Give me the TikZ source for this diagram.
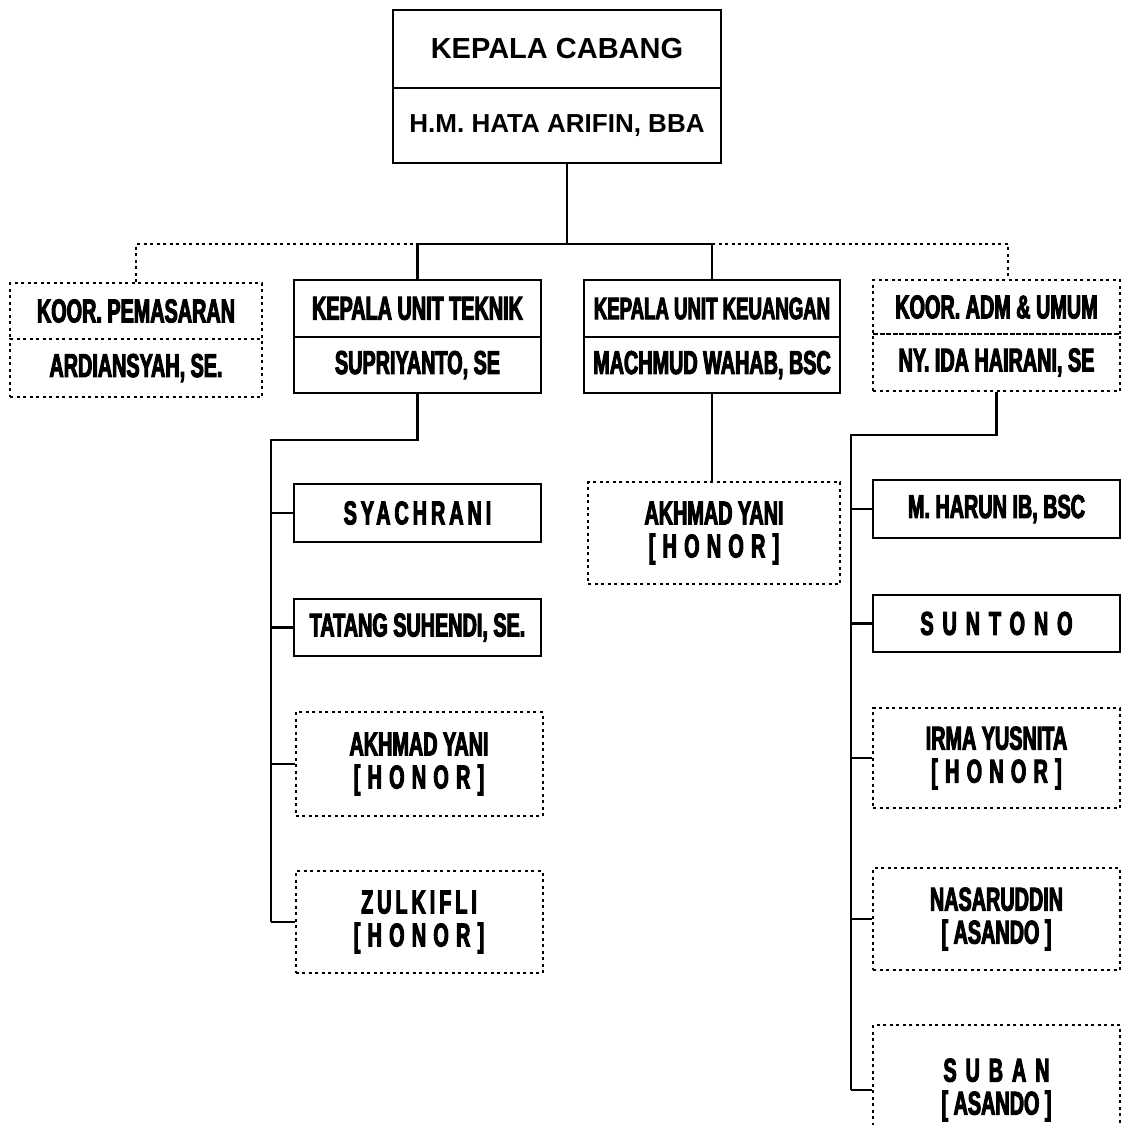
\documentclass[tikz,border=0pt]{standalone}
\usepackage{fontspec}
\setmainfont{Liberation Sans}
\newfontfamily\topf{Liberation Sans Bold}
\newfontfamily\cond{Liberation Sans Bold}[FakeStretch=0.6,FakeBold=3]
\newfontfamily\condsp{Liberation Sans Bold}[FakeStretch=0.6,FakeBold=3,LetterSpace=12]
\newfontfamily\condwide{Liberation Sans Bold}[FakeStretch=0.6,FakeBold=3,LetterSpace=27]
\newfontfamily\condhon{Liberation Sans Bold}[FakeStretch=0.6,FakeBold=3,LetterSpace=22]
\begin{document}
\begin{tikzpicture}[x=1pt,y=-1pt,
  solidbox/.style={draw, line width=2.3pt, inner sep=0pt, align=center,
    font=\cond\fontsize{33}{33}\selectfont},
  dotbox/.style={draw, line width=2pt, dash pattern=on 3pt off 3.5pt, inner sep=0pt, align=center,
    font=\cond\fontsize{33}{33}\selectfont},
  topbox/.style={draw, line width=2.3pt, inner sep=0pt, minimum width=328pt, align=center},
  conn/.style={line width=2.3pt},
  dotconn/.style={line width=2pt, dash pattern=on 3pt off 3.5pt},
  wA/.style={minimum width=252pt},
  wB/.style={minimum width=247pt},
  wC/.style={minimum width=256pt}]
\useasboundingbox (0,0) rectangle (1123,1125);
\clip (0,0) rectangle (1123,1125);

% top box
\node[topbox, minimum height=78pt, font=\topf\fontsize{29}{31}\selectfont] (kc) at (557,49) {KEPALA CABANG};
\node[topbox, minimum height=75pt, font=\topf\fontsize{26}{28}\selectfont] (kcn) at (557,125.5) {H.M. HATA ARIFIN, BBA};

% second level
\node[dotbox, wA, minimum height=56pt] (kp) at (136,311) {KOOR. PEMASARAN};
\node[dotbox, wA, minimum height=58pt] (kpn) at (136,368) {ARDIANSYAH, SE.};

\node[solidbox, wB, minimum height=57pt] (kt) at (417.5,308.5) {KEPALA UNIT TEKNIK};
\node[solidbox, wB, minimum height=56pt] (ktn) at (417.5,365) {SUPRIYANTO, SE};

\node[solidbox, wC, minimum height=57pt, font=\cond\fontsize{31}{33}\selectfont] (kk) at (712,308.5) {KEPALA UNIT KEUANGAN};
\node[solidbox, wC, minimum height=56pt] (kkn) at (712,365) {MACHMUD WAHAB, BSC};

\node[dotbox, wB, minimum height=54pt] (ka) at (996.5,307) {KOOR. ADM \& UMUM};
\node[dotbox, wB, minimum height=57pt] (kan) at (996.5,362.5) {NY. IDA HAIRANI, SE};

% bus
\coordinate (bus) at (567,244);
\coordinate (bA) at (1008,244);
\draw[conn] (bus |- kcn.south) -- (bus);
\draw[conn] (kt.north) -- (kt.north |- bus) -- (kk.north |- bus) -- (kk.north);
\draw[dotconn] (kp.north) -- (kp.north |- bus) -- (kt.north |- bus);
\draw[dotconn] (kk.north |- bus) -- (bA) -- (bA |- ka.north);

% teknik staff
\node[solidbox, wB, minimum height=58pt] (t1) at (417.5,513) {{\condsp SYACHRANI}};
\node[solidbox, wB, minimum height=57pt] (t2) at (417.5,627.5) {TATANG SUHENDI, SE.};
\node[dotbox, wB, minimum height=104pt] (t3) at (419,764) {AKHMAD YANI\\{\condhon[HONOR]}};
\node[dotbox, wB, minimum height=102pt] (t4) at (419,922) {{\condsp ZULKIFLI}\\{\condhon[HONOR]}};
\coordinate (tv) at (271,440);
\draw[conn] (ktn.south) -- (ktn.south |- tv) -- (tv) -- (tv |- t4.west);
\foreach \n in {t1,t2,t3,t4} \draw[conn] (tv |- \n.west) -- (\n.west);

% keuangan staff
\node[dotbox, wA, minimum height=102pt] (k1) at (714,533) {AKHMAD YANI\\{\condhon[HONOR]}};
\draw[conn] (kkn.south) -- (kkn.south |- k1.north);

% adm staff
\node[solidbox, wB, minimum height=58pt] (a1) at (996.5,509) {M. HARUN IB, BSC};
\node[solidbox, wB, minimum height=57pt] (a2) at (996.5,623.5) {{\condwide SUNTONO}};
\node[dotbox, wB, minimum height=100pt] (a3) at (996.5,758) {IRMA YUSNITA\\{\condhon[HONOR]}};
\node[dotbox, wB, minimum height=102pt] (a4) at (996.5,919) {NASARUDDIN\\{[\,ASANDO\,]}};
\node[dotbox, wB, minimum height=130pt] (a5) at (996.5,1090) {{\condwide SUBAN}\\{[\,ASANDO\,]}};
\coordinate (av) at (851,435);
\draw[conn] (kan.south) -- (kan.south |- av) -- (av) -- (av |- a5.west);
\foreach \n in {a1,a2,a3,a4,a5} \draw[conn] (av |- \n.west) -- (\n.west);
\end{tikzpicture}
\end{document}
